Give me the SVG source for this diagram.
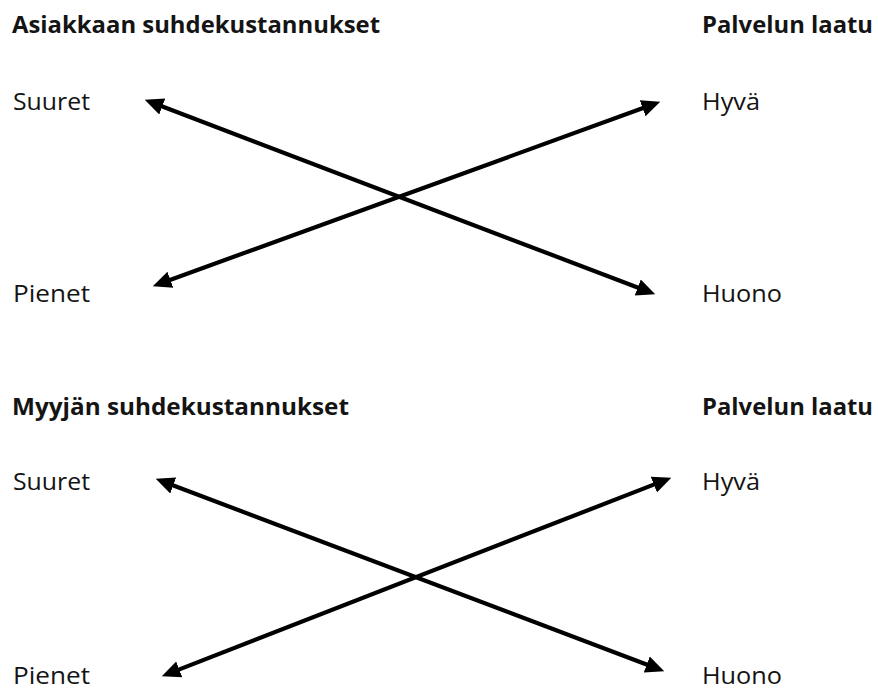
<svg xmlns="http://www.w3.org/2000/svg" width="878" height="690" viewBox="0 0 878 690">
  <style>
    text { font-family: "Open Sans", "Noto Sans", "Liberation Sans", sans-serif; fill: #141414; font-size: 23px; }
    .head { font-weight: bold; }
    .arrow { stroke: #000; stroke-width: 4.2; fill: none; marker-start: url(#head); marker-end: url(#head); }
  </style>
  <defs>
    <marker id="head" markerUnits="userSpaceOnUse" markerWidth="20" markerHeight="20" viewBox="0 -8 16 16" refX="1" refY="0" orient="auto-start-reverse">
      <path d="M0,-6.8 L15,0 L0,6.8 Z" fill="#000"/>
    </marker>
  </defs>

  <rect width="878" height="690" fill="#fff"/>

  <!-- upper panel: customer's relationship costs vs service quality -->
  <g id="customer-title"><text class="head" x="12" y="33" textLength="368" lengthAdjust="spacingAndGlyphs">Asiakkaan suhdekustannukset</text></g>
  <g id="quality-title-1"><text class="head" x="702" y="33" textLength="171" lengthAdjust="spacingAndGlyphs">Palvelun laatu</text></g>
  <g id="customer-high"><text x="13" y="110" textLength="77" lengthAdjust="spacingAndGlyphs">Suuret</text></g>
  <g id="customer-low"><text x="13" y="302" textLength="77" lengthAdjust="spacingAndGlyphs">Pienet</text></g>
  <g id="quality-good-1"><text x="702" y="110" textLength="58" lengthAdjust="spacingAndGlyphs">Hyvä</text></g>
  <g id="quality-poor-1"><text x="702" y="302" textLength="80" lengthAdjust="spacingAndGlyphs">Huono</text></g>

  <!-- lower panel: seller's relationship costs vs service quality -->
  <g id="seller-title"><text class="head" x="12" y="415" textLength="337" lengthAdjust="spacingAndGlyphs">Myyjän suhdekustannukset</text></g>
  <g id="quality-title-2"><text class="head" x="702" y="415" textLength="171" lengthAdjust="spacingAndGlyphs">Palvelun laatu</text></g>
  <g id="seller-high"><text x="13" y="490" textLength="77" lengthAdjust="spacingAndGlyphs">Suuret</text></g>
  <g id="seller-low"><text x="13" y="684" font-size="22" textLength="77" lengthAdjust="spacingAndGlyphs">Pienet</text></g>
  <g id="quality-good-2"><text x="702" y="490" textLength="58" lengthAdjust="spacingAndGlyphs">Hyvä</text></g>
  <g id="quality-poor-2"><text x="702" y="684" font-size="22" textLength="80" lengthAdjust="spacingAndGlyphs">Huono</text></g>

  <!-- double-headed connectors -->
  <g id="connectors">
    <line class="arrow" x1="161.1" y1="106.0" x2="638.9" y2="288.0"/>
    <line class="arrow" x1="169.2" y1="280.2" x2="643.8" y2="107.8"/>
    <line class="arrow" x1="172.1" y1="485.0" x2="647.9" y2="665.0"/>
    <line class="arrow" x1="178.1" y1="669.9" x2="655.0" y2="484.1"/>
  </g>
</svg>
